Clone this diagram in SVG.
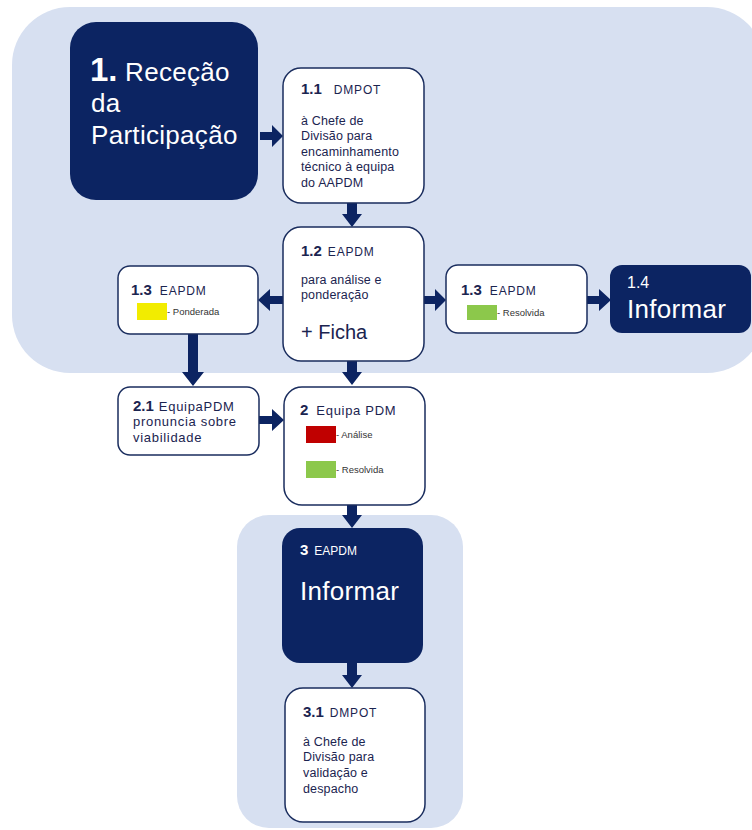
<svg xmlns="http://www.w3.org/2000/svg" width="752" height="830" viewBox="0 0 752 830">
<style>
.panel{fill:#d7e0f1}
.dark{fill:#0c2462}
.box{fill:#ffffff;stroke:#1a2d5e;stroke-width:1.5}
.arr{fill:#0c2462}
text{font-family:"Liberation Sans",Arial,sans-serif}
.w{fill:#ffffff}
.t{fill:#1b2450}
.num{font-weight:bold;font-size:15px}
.hd{font-size:12px;letter-spacing:0.8px}
.bd{font-size:12.5px;letter-spacing:0.15px}
.bd2{font-size:13px;letter-spacing:0.7px}
.sm{font-size:9.5px;fill:#333333}
.big{font-size:26px;letter-spacing:0.3px}
</style>
<rect class="panel" x="12" y="7" width="753" height="366" rx="58"/>
<rect class="panel" x="237" y="515" width="226" height="313" rx="32"/>
<g id="connectors">
<polygon class="arr" points="260,132 272,132 272,125 283,136 272,147 272,140 260,140"/>
<polygon class="arr" points="347,203 357,203 357,214 362,214 352,227 342,214 347,214"/>
<polygon class="arr" points="283,296 270,296 270,289 258,300 270,311 270,304 283,304"/>
<polygon class="arr" points="424,296 435,296 435,289 446,300 435,311 435,304 424,304"/>
<polygon class="arr" points="587,296 599,296 599,289 611,300 599,311 599,304 587,304"/>
<polygon class="arr" points="188,334 198,334 198,372 204,372 193,386 182,372 188,372"/>
<polygon class="arr" points="347,360 357,360 357,372 362,372 352,385 342,372 347,372"/>
<polygon class="arr" points="259,416 272,416 272,409 284,420 272,431 272,424 259,424"/>
<polygon class="arr" points="347,505 357,505 357,515 362,515 352,528 342,515 347,515"/>
<polygon class="arr" points="347,663 357,663 357,675 362,675 352,688 342,675 347,675"/>
</g>
<g id="n1">
<rect class="dark" x="70" y="22" width="188" height="178" rx="26"/>
<text class="w" x="90" y="81"><tspan font-weight="bold" font-size="33">1.</tspan><tspan class="big"> Receção</tspan></text>
<text class="w big" x="91" y="112">da</text>
<text class="w big" x="91" y="144">Participação</text>
</g>
<g id="n1_1">
<rect class="box" x="283" y="68" width="141" height="135" rx="18"/>
<text class="t" x="301" y="94"><tspan class="num">1.1</tspan><tspan class="hd" dx="12">DMPOT</tspan></text>
<text class="t bd" x="301" y="125">à Chefe de</text>
<text class="t bd" x="301" y="140">Divisão para</text>
<text class="t bd" x="301" y="156">encaminhamento</text>
<text class="t bd" x="301" y="171">técnico à equipa</text>
<text class="t bd" x="301" y="187">do AAPDM</text>
</g>
<g id="n1_2">
<rect class="box" x="283" y="227" width="141" height="134" rx="18"/>
<text class="t" x="301" y="256"><tspan class="num">1.2</tspan><tspan class="hd" dx="6">EAPDM</tspan></text>
<text class="t bd" x="301" y="284">para análise e</text>
<text class="t bd" x="301" y="299">ponderação</text>
<text class="t" x="301" y="339" font-size="20">+ Ficha</text>
</g>
<g id="n1_3a">
<rect class="box" x="118" y="266" width="140" height="68" rx="12"/>
<text class="t" x="131" y="295"><tspan class="num">1.3</tspan><tspan class="hd" dx="8">EAPDM</tspan></text>
<rect x="137" y="303" width="30" height="17" fill="#f2ec00"/>
<text class="sm" x="167" y="315">- Ponderada</text>
</g>
<g id="n1_3b">
<rect class="box" x="446" y="265" width="141" height="68" rx="12"/>
<text class="t" x="461" y="295"><tspan class="num">1.3</tspan><tspan class="hd" dx="8">EAPDM</tspan></text>
<rect x="467" y="305" width="30" height="15" fill="#8cc84b"/>
<text class="sm" x="497" y="316">- Resolvida</text>
</g>
<g id="n1_4">
<rect class="dark" x="610" y="265" width="141" height="68" rx="12"/>
<text class="w" x="627" y="288" font-size="16">1.4</text>
<text class="w big" x="627" y="318">Informar</text>
</g>
<g id="n2_1">
<rect class="box" x="118" y="387" width="141" height="68" rx="12"/>
<text class="t" x="133" y="411"><tspan class="num">2.1</tspan><tspan class="bd2" dx="5">EquipaPDM</tspan></text>
<text class="t bd2" x="133" y="426">pronuncia sobre</text>
<text class="t bd2" x="133" y="442">viabilidade</text>
</g>
<g id="n2">
<rect class="box" x="284" y="387" width="141" height="118" rx="18"/>
<text class="t" x="300" y="415"><tspan class="num">2</tspan><tspan class="bd2" dx="8">Equipa PDM</tspan></text>
<rect x="306" y="426" width="30" height="17" fill="#c00000"/>
<text class="sm" x="336" y="438">- Análise</text>
<rect x="306" y="461" width="30" height="17" fill="#8cc84b"/>
<text class="sm" x="336" y="473">- Resolvida</text>
</g>
<g id="n3">
<rect class="dark" x="282" y="528" width="141" height="135" rx="18"/>
<text class="w" x="300" y="555"><tspan class="num">3</tspan><tspan font-size="12" dx="6">EAPDM</tspan></text>
<text class="w big" x="300" y="600">Informar</text>
</g>
<g id="n3_1">
<rect class="box" x="285" y="688" width="140" height="134" rx="18"/>
<text class="t" x="303" y="717"><tspan class="num">3.1</tspan><tspan class="hd" dx="6">DMPOT</tspan></text>
<text class="t bd" x="303" y="746">à Chefe de</text>
<text class="t bd" x="303" y="761">Divisão para</text>
<text class="t bd" x="303" y="777">validação e</text>
<text class="t bd" x="303" y="793">despacho</text>
</g>
</svg>
